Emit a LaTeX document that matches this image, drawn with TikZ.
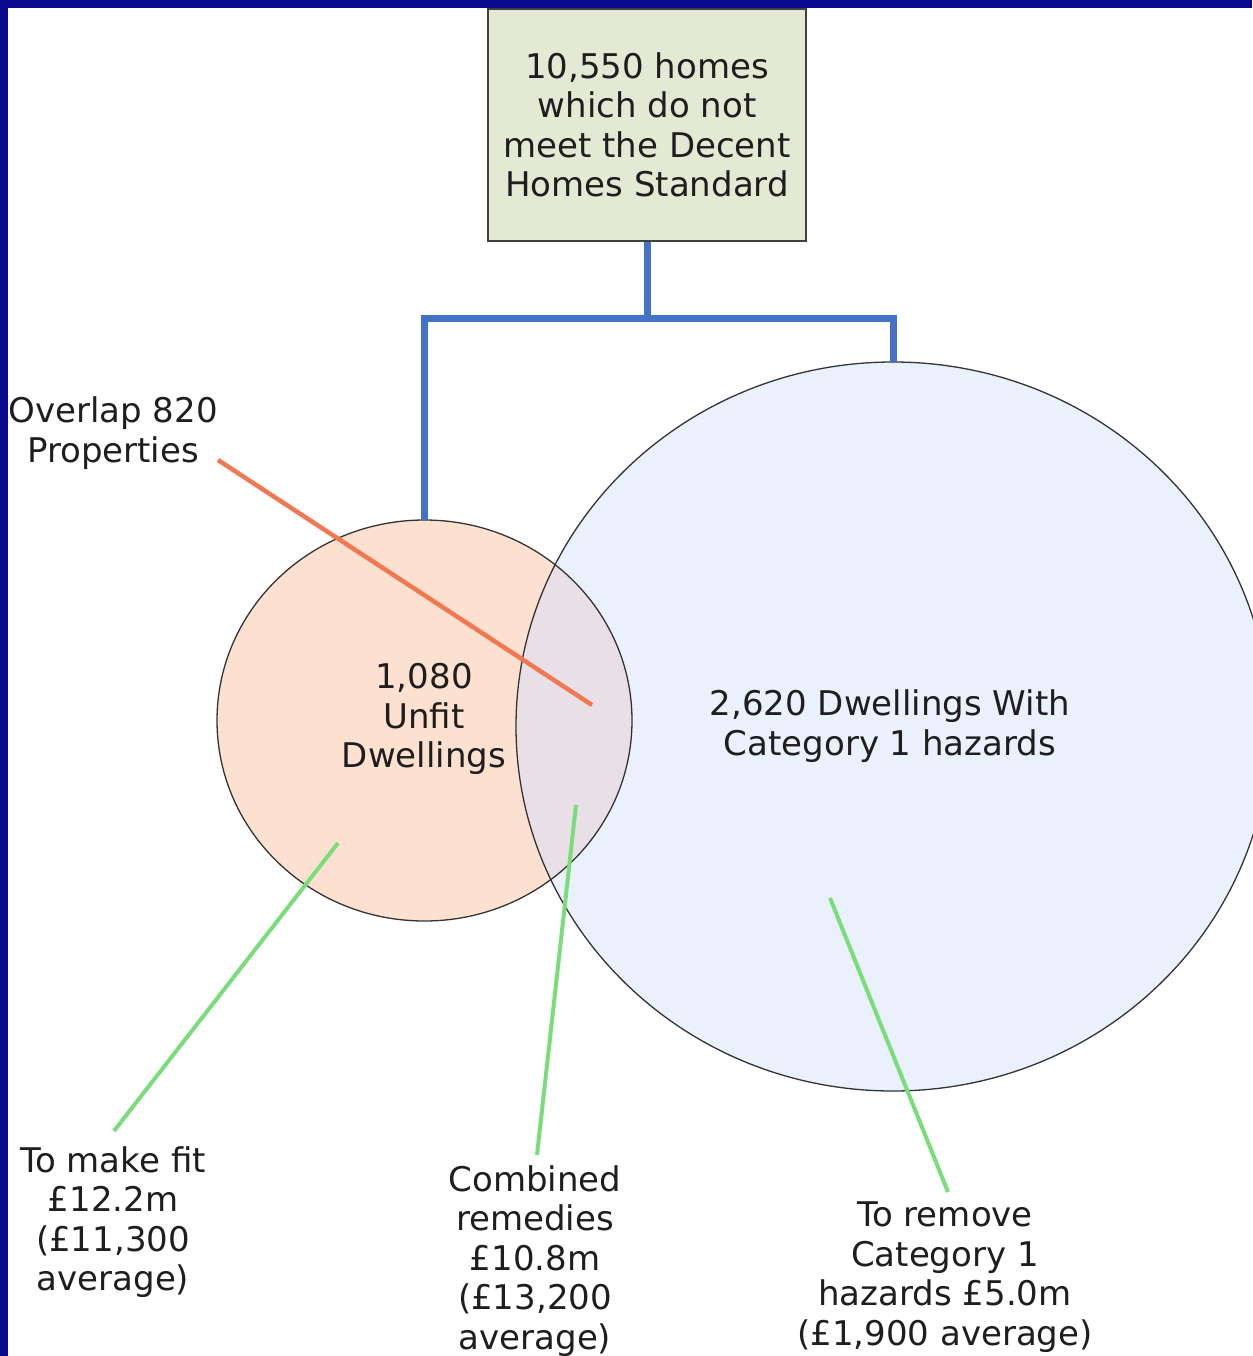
\documentclass[tikz,border=0pt]{standalone}
\usepackage{fontspec}
\setmainfont{DejaVu Sans}
\usetikzlibrary{shapes.geometric}
\definecolor{navy}{RGB}{10,8,140}
\definecolor{boxfill}{RGB}{228,233,212}
\definecolor{boxline}{RGB}{64,64,64}
\definecolor{bluecon}{RGB}{68,114,196}
\definecolor{peach}{RGB}{252,225,208}
\definecolor{lightblue}{RGB}{234,241,253}
\definecolor{overlapc}{RGB}{232,224,230}
\definecolor{orangeln}{RGB}{240,120,82}
\definecolor{greenln}{RGB}{122,220,122}
\definecolor{txtgrey}{RGB}{30,30,30}
\tikzset{
  lbl/.style={text=txtgrey, font=\fontsize{34}{39.5}\selectfont, inner sep=0pt, align=center},
  topbox/.style={lbl, draw=boxline, line width=1.6pt, fill=boxfill, minimum width=318pt, minimum height=232pt},
  venn/.style={shape=ellipse, inner sep=0pt},
  outline/.style={draw=black!80, line width=1.3pt},
  blueline/.style={draw=bluecon, line width=7pt},
  orangeline/.style={draw=orangeln, line width=4.5pt},
  greenline/.style={draw=greenln, line width=4pt},
}
\begin{document}
\begin{tikzpicture}[x=1pt,y=-1pt]
\useasboundingbox (0,0) rectangle (1252,1356);
\fill[white] (0,0) rectangle (1252,1356);
% circles
\node[venn, fill=lightblue, minimum width=754pt, minimum height=729pt] (big) at (893,726.5) {};
\node[venn, fill=peach, minimum width=415pt, minimum height=401pt] (small) at (424.5,720.5) {};
\begin{scope}
  \clip (big.center) ellipse [x radius=377, y radius=364.5];
  \fill[overlapc] (small.center) ellipse [x radius=207.5, y radius=200.5];
\end{scope}
\draw[outline] (big.center) ellipse [x radius=377, y radius=364.5];
\draw[outline] (small.center) ellipse [x radius=207.5, y radius=200.5];
% border strips
\fill[navy] (0,0) rectangle (1252,8);
\fill[navy] (0,0) rectangle (8,1356);
% top box
\node[topbox] (top) at (647,125) {10,550 homes\\which do not\\meet the Decent\\Homes Standard};
\coordinate (junc) at (647,318);
\draw[blueline] (top.south) -- (junc);
\draw[blueline] (small.north) |- (big.north |- junc) -- (big.north);
% texts in circles
\node[lbl] (smalltxt) at (424,719) {1,080\\Unfit\\Dwellings};
\node[lbl] (bigtxt) at (890,726) {2,620 Dwellings With\\Category 1 hazards};
% overlap
\node[lbl] (ovl) at (113,433) {Overlap 820\\Properties};
\coordinate (ovlA) at (218,460);
\coordinate (ovlB) at (592,705);
\draw[orangeline] (ovlA) -- (ovlB);
% bottom labels
\node[lbl] (fit) at (113,1222) {To make fit\\£12.2m\\(£11,300\\average)};
\node[lbl] (comb) at (535,1261) {Combined\\remedies\\£10.8m\\(£13,200\\average)};
\node[lbl] (rem) at (945,1277) {To remove\\Category 1\\hazards £5.0m\\(£1,900 average)};
\coordinate (g1a) at (338,843);
\coordinate (g1b) at (114,1131);
\coordinate (g2a) at (576,805);
\coordinate (g2b) at (537,1155);
\coordinate (g3a) at (830,898);
\coordinate (g3b) at (948,1192);
\draw[greenline] (g1a) -- (g1b);
\draw[greenline] (g2a) -- (g2b);
\draw[greenline] (g3a) -- (g3b);
\end{tikzpicture}
\end{document}
